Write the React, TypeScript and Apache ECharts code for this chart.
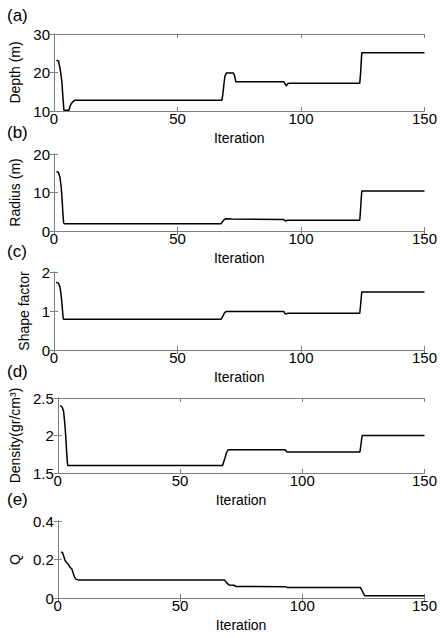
import React, { useEffect, useRef } from "react";
import * as echarts from "echarts";

// ---- data ----
const panelLetters = ["(a)", "(b)", "(c)", "(d)", "(e)"];
const yNames = ["Depth (m)", "Radius (m)", "Shape factor", "Density(gr/cm\u00B3)", "Q"];
const xName = "Iteration";
const xMin = 0;
const xMax = 150;
const xInterval = 50;
const yMins = [10, 0, 0, 1.5, 0];
const yMaxs = [30, 20, 2, 2.5, 0.4];
const yIntervals = [10, 10, 1, 0.5, 0.2];

// [iteration, value]
const depth: number[][] = [
  [1, 23.2], [1.8, 23.0], [2.4, 21.2], [2.8, 19.5], [3.2, 17.6], [3.5, 14.5], [3.8, 12], [4.0, 10.2],
  [6.1, 10.2], [6.5, 11.3], [7.0, 11.9], [7.6, 12.4], [8.5, 12.8], [68, 12.8], [68.4, 14.5],
  [68.8, 17], [69.2, 19], [69.8, 19.9], [72.6, 19.9], [73.1, 19.2], [73.6, 17.6], [93, 17.6],
  [93.5, 17.1], [94, 16.5], [94.6, 17.1], [95.2, 17.2], [123.8, 17.2], [124.2, 20.5], [124.6, 25.1],
  [150, 25.1],
];
const radius: number[][] = [
  [1, 15.5], [1.8, 15.2], [2.4, 14], [2.9, 11.5], [3.3, 8], [3.6, 4.5], [3.9, 2.2], [4.1, 1.9],
  [67.6, 1.9], [68.2, 2.4], [68.8, 2.9], [69.6, 3.2], [72, 3.1], [93, 3.0], [93.7, 2.6],
  [94.5, 2.8], [123.8, 2.8], [124.2, 6.5], [124.6, 10.4], [150, 10.4],
];
const shapeFactor: number[][] = [
  [0.9, 1.74], [1.8, 1.71], [2.4, 1.62], [2.8, 1.45], [3.1, 1.28], [3.4, 1.05], [3.7, 0.82],
  [3.9, 0.79], [67.7, 0.79], [68.3, 0.86], [68.9, 0.94], [69.7, 0.99], [93, 0.99], [93.7, 0.92],
  [94.5, 0.94], [123.8, 0.94], [124.2, 1.2], [124.6, 1.49], [150, 1.49],
];
const density: number[][] = [
  [0.9, 2.4], [1.8, 2.38], [2.4, 2.32], [2.9, 2.15], [3.3, 1.98], [3.6, 1.8], [3.9, 1.65],
  [4.1, 1.6], [67.4, 1.6], [67.9, 1.65], [68.4, 1.7], [69, 1.77], [69.7, 1.81], [93, 1.81],
  [93.8, 1.78], [123.6, 1.78], [124.1, 1.9], [124.5, 2.0], [150, 2.0],
];
const qValues: number[][] = [
  [1.3, 0.24], [2, 0.235], [2.5, 0.215], [3, 0.195], [3.6, 0.185], [4.3, 0.175], [5, 0.16],
  [5.8, 0.15], [6.3, 0.13], [6.8, 0.11], [7.4, 0.098], [8.5, 0.093], [68.3, 0.093], [69, 0.08],
  [70, 0.068], [72, 0.066], [73, 0.06], [93, 0.059], [94, 0.054], [123.8, 0.054], [124.8, 0.03],
  [125.5, 0.012], [150, 0.012],
];
const seriesData = [depth, radius, shapeFactor, density, qValues];

// ---- layout ----
const grids = [
  { left: 54, right: 13, top: 34, height: 77 },
  { left: 54, right: 13, top: 154, height: 77 },
  { left: 54, right: 13, top: 272, height: 78 },
  { left: 54, right: 13, top: 398, height: 75 },
  { left: 53, right: 14, top: 521, height: 77 },
];
const yNameGaps = [22, 22, 22, 22, 32];
const letterTops = [7, 124, 243, 363, 491];
const FONT = "'Liberation Sans', Arial, sans-serif";
const AXIS_COLOR = "#7f7f7f";

export default function App() {
  const ref = useRef<HTMLDivElement>(null);
  useEffect(() => {
    if (!ref.current) return;
    const chart = echarts.init(ref.current, null, { renderer: "svg" });
    const xAxis: any[] = [];
    const yAxis: any[] = [];
    const series: any[] = [];
    grids.forEach((g, i) => {
      const tickCommon = { show: true, inside: true, length: 4, lineStyle: { color: AXIS_COLOR } };
      xAxis.push({
        type: "value", gridIndex: i, position: "bottom", min: xMin, max: xMax, interval: xInterval,
        name: xName, nameLocation: "middle", nameGap: 20,
        nameTextStyle: { color: "#000", fontSize: 14, fontFamily: FONT },
        axisLine: { show: true, lineStyle: { color: AXIS_COLOR, width: 1 } },
        axisTick: tickCommon,
        axisLabel: { color: "#000", fontSize: 15, fontFamily: FONT, margin: 0 },
        splitLine: { show: false },
      });
      xAxis.push({
        type: "value", gridIndex: i, position: "top", min: xMin, max: xMax, interval: xInterval,
        axisLine: { show: true, lineStyle: { color: AXIS_COLOR, width: 1 } },
        axisTick: tickCommon, axisLabel: { show: false }, splitLine: { show: false },
      });
      yAxis.push({
        type: "value", gridIndex: i, position: "left", min: yMins[i], max: yMaxs[i], interval: yIntervals[i],
        name: yNames[i], nameLocation: "middle", nameGap: yNameGaps[i], nameRotate: 90,
        nameTextStyle: { color: "#000", fontSize: 14, fontFamily: FONT },
        axisLine: { show: true, lineStyle: { color: AXIS_COLOR, width: 1 } },
        axisTick: tickCommon,
        axisLabel: { color: "#000", fontSize: 15, fontFamily: FONT, margin: 4 },
        splitLine: { show: false },
      });
      yAxis.push({
        type: "value", gridIndex: i, position: "right", min: yMins[i], max: yMaxs[i], interval: yIntervals[i],
        axisLine: { show: true, lineStyle: { color: AXIS_COLOR, width: 1 } },
        axisTick: tickCommon, axisLabel: { show: false }, splitLine: { show: false },
      });
      series.push({
        type: "line", xAxisIndex: i * 2, yAxisIndex: i * 2, data: seriesData[i],
        showSymbol: false, symbol: "none", lineStyle: { color: "#000", width: 1.5 },
        clip: false,
      });
    });
    chart.setOption({
      animation: false,
      backgroundColor: "#fff",
      grid: grids.map((g) => ({ ...g, containLabel: false })),
      xAxis,
      yAxis,
      series,
      graphic: panelLetters.map((t, i) => ({
        type: "text", left: 7, top: letterTops[i],
        style: { text: t, fill: "#000", font: `17px ${FONT}` },
      })),
    });
    return () => chart.dispose();
  }, []);
  return (
    <div
      ref={ref}
      style={{ position: "fixed", left: 0, top: 0, width: 440, height: 638, background: "#fff" }}
    />
  );
}
